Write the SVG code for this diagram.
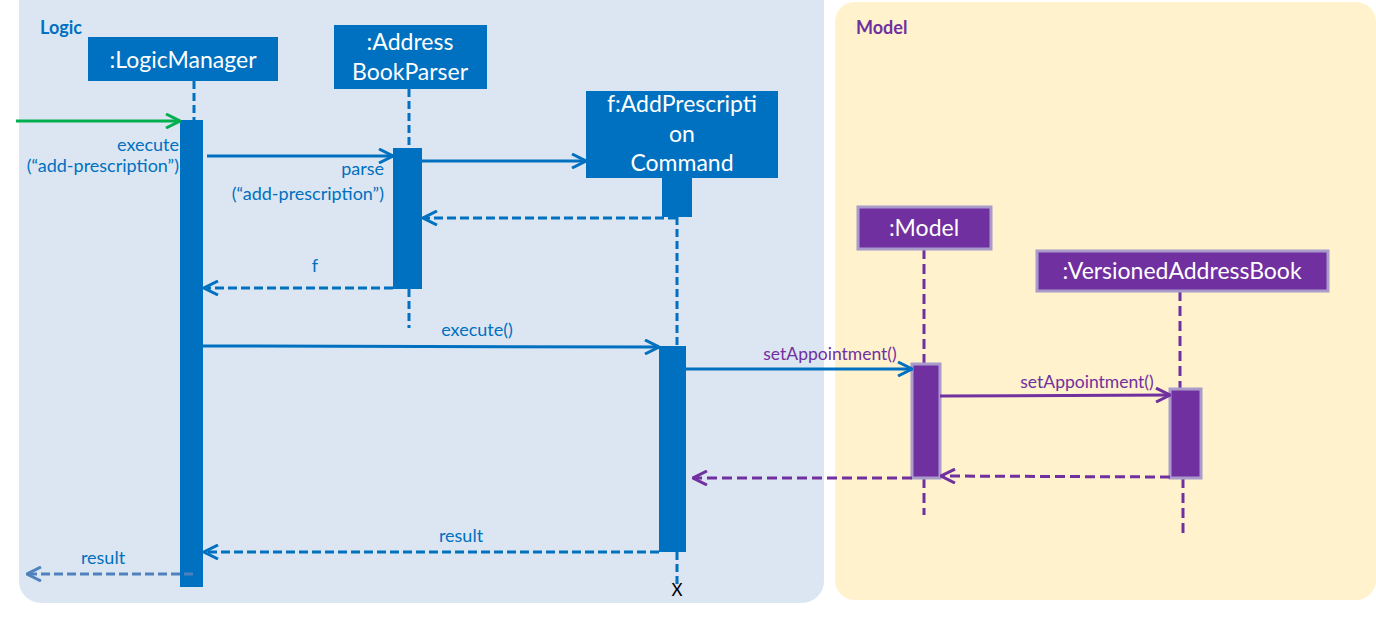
<svg xmlns="http://www.w3.org/2000/svg" width="1376" height="618" viewBox="0 0 1376 618">
  <style>
    text { font-family: Lato, "Liberation Sans", sans-serif; }
    .frame-title { font-size: 18px; font-weight: bold; }
    .box-blue { fill: #0070C0; }
    .box-purple { fill: #7030A0; stroke: #A99BCB; stroke-width: 3; }
    .box-label { fill: #FFFFFF; font-size: 23px; text-anchor: middle; }
    .life-blue { stroke: #0070C0; stroke-width: 3; stroke-dasharray: 8 4; fill: none; }
    .life-purple { stroke: #7030A0; stroke-width: 3; stroke-dasharray: 10 5; fill: none; }
    .call-blue { stroke: #0070C0; stroke-width: 3; fill: none; }
    .call-purple { stroke: #7030A0; stroke-width: 3; fill: none; }
    .ret-blue { stroke: #0070C0; stroke-width: 3; stroke-dasharray: 9 4; fill: none; }
    .ret-purple { stroke: #7030A0; stroke-width: 3; stroke-dasharray: 10 5; fill: none; }
    .ret-light { stroke: #4F81BD; stroke-width: 3; stroke-dasharray: 9 4; fill: none; }
    .msg-blue { fill: #0070C0; font-size: 18px; }
    .msg-purple { fill: #7030A0; font-size: 17.5px; }
  </style>
  <defs>
    <marker id="head-blue" viewBox="0 0 16 16" markerWidth="16" markerHeight="16" refX="15" refY="8" orient="auto" markerUnits="userSpaceOnUse">
      <path d="M1,1 L15,8 L1,15" fill="none" stroke="#0070C0" stroke-width="3"/>
    </marker>
    <marker id="head-green" viewBox="0 0 16 16" markerWidth="16" markerHeight="16" refX="15" refY="8" orient="auto" markerUnits="userSpaceOnUse">
      <path d="M1,1 L15,8 L1,15" fill="none" stroke="#00B050" stroke-width="3"/>
    </marker>
    <marker id="head-purple" viewBox="0 0 16 16" markerWidth="16" markerHeight="16" refX="15" refY="8" orient="auto" markerUnits="userSpaceOnUse">
      <path d="M1,1 L15,8 L1,15" fill="none" stroke="#7030A0" stroke-width="3"/>
    </marker>
    <marker id="head-light" viewBox="0 0 16 16" markerWidth="16" markerHeight="16" refX="15" refY="8" orient="auto" markerUnits="userSpaceOnUse">
      <path d="M1,1 L15,8 L1,15" fill="none" stroke="#4F81BD" stroke-width="3"/>
    </marker>
  </defs>

  <rect width="1376" height="618" fill="#FFFFFF"/>

  <!-- component frames -->
  <g id="frame-logic">
    <rect x="19" y="-20" width="805" height="623" rx="22" fill="#DCE6F2"/>
    <text x="40" y="34" class="frame-title" fill="#0070C0">Logic</text>
  </g>
  <g id="frame-model">
    <rect x="835" y="2" width="541" height="598" rx="20" fill="#FFF2CC"/>
    <text x="856" y="34" class="frame-title" fill="#7030A0">Model</text>
  </g>

  <!-- lifelines -->
  <g id="lifelines">
    <line x1="194" y1="81" x2="194" y2="120" class="life-blue"/>
    <line x1="409" y1="89" x2="409" y2="148" class="life-blue"/>
    <line x1="409" y1="289" x2="409" y2="328" class="life-blue"/>
    <line x1="677" y1="217" x2="677" y2="346" class="life-blue"/>
    <line x1="677" y1="552" x2="677" y2="585" class="life-blue"/>
    <line x1="924" y1="249" x2="924" y2="364" class="life-purple"/>
    <line x1="924" y1="478" x2="924" y2="515" class="life-purple"/>
    <line x1="1180" y1="291" x2="1180" y2="389" class="life-purple"/>
    <line x1="1183" y1="478" x2="1183" y2="535" class="life-purple"/>
  </g>

  <!-- participants -->
  <g id="logic-manager">
    <rect x="88" y="37" width="190" height="44" class="box-blue"/>
    <text x="183" y="68" class="box-label">:LogicManager</text>
    <rect x="180" y="120" width="23" height="467" class="box-blue"/>
  </g>
  <g id="address-book-parser">
    <rect x="334" y="25" width="153" height="64" class="box-blue"/>
    <text x="410" y="50" class="box-label">:Address</text>
    <text x="410" y="80" class="box-label">BookParser</text>
    <rect x="393" y="148" width="29" height="141" class="box-blue"/>
  </g>
  <g id="add-prescription-command">
    <rect x="586" y="91" width="192" height="87" class="box-blue"/>
    <text x="682" y="112" class="box-label">f:AddPrescripti</text>
    <text x="682" y="142" class="box-label">on</text>
    <text x="682" y="171" class="box-label">Command</text>
    <rect x="662" y="177" width="30" height="40" class="box-blue"/>
    <rect x="659" y="346" width="27" height="206" class="box-blue"/>
    <text x="677" y="596" font-size="17" fill="#000000" text-anchor="middle">X</text>
  </g>
  <g id="model">
    <rect x="858" y="207" width="133" height="42" class="box-purple"/>
    <text x="924" y="236" class="box-label">:Model</text>
    <rect x="912" y="364" width="28" height="114" class="box-purple"/>
  </g>
  <g id="versioned-address-book">
    <rect x="1037" y="251" width="291" height="40" class="box-purple"/>
    <text x="1182" y="279" class="box-label">:VersionedAddressBook</text>
    <rect x="1170" y="389" width="31" height="89" class="box-purple"/>
  </g>

  <!-- messages -->
  <g id="connectors">
    <line x1="16" y1="121" x2="180" y2="121" stroke="#00B050" stroke-width="3" marker-end="url(#head-green)"/>
    <line x1="207" y1="156" x2="393" y2="156" class="call-blue" marker-end="url(#head-blue)"/>
    <line x1="422" y1="161" x2="586" y2="161" class="call-blue" marker-end="url(#head-blue)"/>
    <line x1="677" y1="218" x2="423" y2="218" class="ret-blue" marker-end="url(#head-blue)"/>
    <line x1="393" y1="288" x2="204" y2="288" class="ret-blue" marker-end="url(#head-blue)"/>
    <line x1="203" y1="346" x2="659" y2="347" class="call-blue" marker-end="url(#head-blue)"/>
    <line x1="686" y1="369" x2="912" y2="369" class="call-blue" marker-end="url(#head-blue)"/>
    <line x1="940" y1="396" x2="1170" y2="395" class="call-purple" marker-end="url(#head-purple)"/>
    <line x1="1170" y1="477" x2="941" y2="476" class="ret-purple" marker-end="url(#head-purple)"/>
    <line x1="912" y1="478" x2="693" y2="478" class="ret-purple" marker-end="url(#head-purple)"/>
    <line x1="659" y1="552" x2="204" y2="552" class="ret-blue" marker-end="url(#head-blue)"/>
    <line x1="193" y1="574" x2="27" y2="574" class="ret-light" marker-end="url(#head-light)"/>

    <text x="179" y="151" class="msg-blue" text-anchor="end">execute</text>
    <text x="179" y="172" class="msg-blue" text-anchor="end">(“add-prescription”)</text>
    <text x="384" y="175" class="msg-blue" text-anchor="end">parse</text>
    <text x="384" y="200" class="msg-blue" text-anchor="end">(“add-prescription”)</text>
    <text x="315" y="272" class="msg-blue" text-anchor="middle">f</text>
    <text x="477" y="336" class="msg-blue" text-anchor="middle">execute()</text>
    <text x="830" y="360" class="msg-purple" text-anchor="middle">setAppointment()</text>
    <text x="1087" y="388" class="msg-purple" text-anchor="middle">setAppointment()</text>
    <text x="461" y="542" class="msg-blue" text-anchor="middle">result</text>
    <text x="103" y="564" class="msg-blue" text-anchor="middle">result</text>
  </g>
</svg>
